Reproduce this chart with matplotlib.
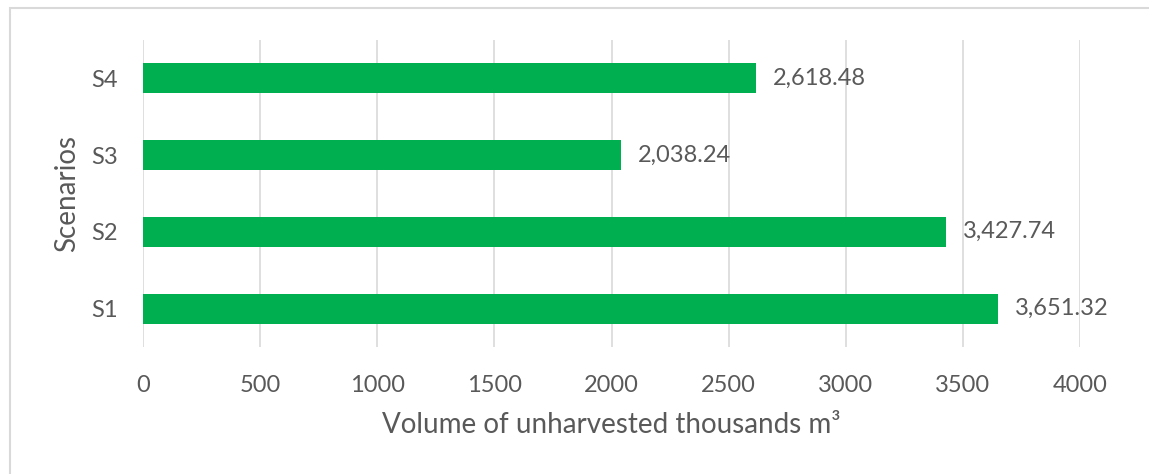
import matplotlib.pyplot as plt
from matplotlib.patches import Rectangle

scenarios = ['S1', 'S2', 'S3', 'S4']
volumes = [3651.32, 3427.74, 2038.24, 2618.48]
x_ticks = [0, 500, 1000, 1500, 2000, 2500, 3000, 3500, 4000]

plt.rcParams['font.family'] = ['Lato', 'DejaVu Sans']
text_color = '#595959'

fig = plt.figure(figsize=(11.49, 4.74), dpi=100)
ax = fig.add_axes([0.1245, 0.268, 0.8155, 0.6477])

ax.barh(range(len(scenarios)), volumes, height=0.39, color='#00B050', zorder=3)
for i, v in enumerate(volumes):
    ax.text(v + 72, i, '{:,.2f}'.format(v), va='center', ha='left',
            fontsize=17, color=text_color)

ax.set_xlim(0, 4000)
ax.set_ylim(-0.5, 3.5)
ax.set_xticks(x_ticks)
ax.set_yticks(range(len(scenarios)))
ax.set_yticklabels(scenarios)
ax.tick_params(axis='both', length=0, labelsize=17, labelcolor=text_color)
ax.tick_params(axis='x', pad=20)
ax.tick_params(axis='y', pad=18)
ax.grid(axis='x', color='#D9D9D9', linewidth=1.2, zorder=0)
for s in ax.spines.values():
    s.set_visible(False)

ax.set_xlabel('Volume of unharvested thousands m³', fontsize=20,
              color=text_color, labelpad=12)
ax.set_ylabel('Scenarios', fontsize=20, color=text_color, labelpad=8)

fig.patches.append(Rectangle((10 / 1149, -0.1), 1.2, 1.1 - 8 / 474,
                             transform=fig.transFigure, fill=False,
                             edgecolor='#D9D9D9', linewidth=1.5))

fig.savefig('out.png', dpi=100)
